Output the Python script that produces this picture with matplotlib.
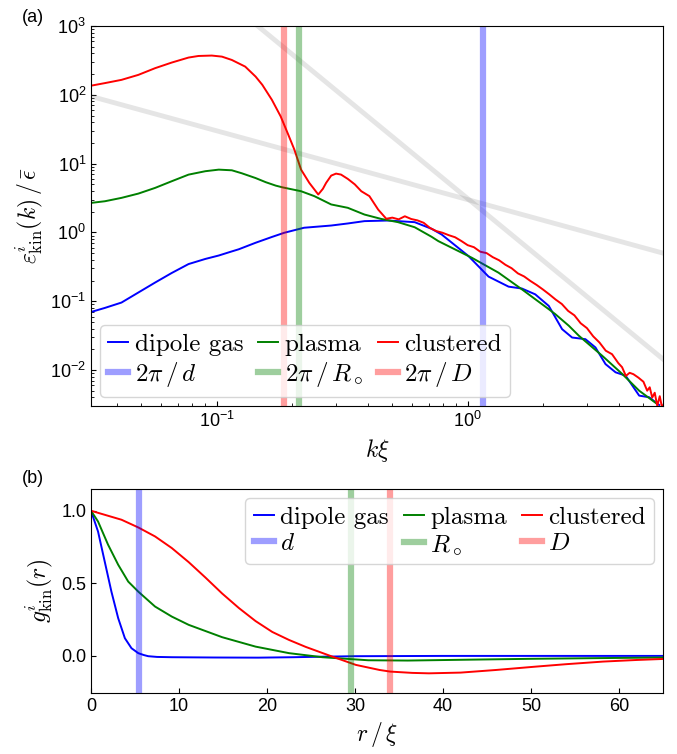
import matplotlib.pyplot as plt
import numpy as np

plt.rcParams['font.family'] = ['Liberation Sans', 'DejaVu Sans']
plt.rcParams['mathtext.fontset'] = 'cm'
plt.rcParams['xtick.direction'] = 'in'
plt.rcParams['ytick.direction'] = 'in'

# (a) kinetic energy spectra
k_dip = [0.0317, 0.0359, 0.0418, 0.0488, 0.0569, 0.0662, 0.0773, 0.0902, 0.102, 0.114,
         0.1225, 0.143, 0.1663, 0.186, 0.223, 0.286, 0.333, 0.388, 0.482, 0.615, 0.718,
         0.787, 1.007, 1.211, 1.455, 1.644, 1.858, 2.104, 2.377, 2.606, 2.944, 3.228,
         3.540, 3.882, 4.256, 4.82, 5.284, 5.79]
E_dip = [0.070, 0.080, 0.0957, 0.134, 0.187, 0.257, 0.347, 0.412, 0.462, 0.525,
         0.569, 0.708, 0.861, 0.989, 1.17, 1.26, 1.35, 1.46, 1.49, 1.41, 1.13,
         0.935, 0.454, 0.228, 0.163, 0.153, 0.126, 0.0855, 0.0393, 0.0297, 0.0281, 0.0213,
         0.0122, 0.00927, 0.00828, 0.00425, 0.00402, 0.00311]

k_pla = [0.0317, 0.0359, 0.0418, 0.0488, 0.0569, 0.0662, 0.0773, 0.0902, 0.102, 0.115,
         0.126, 0.143, 0.157, 0.172, 0.183, 0.217, 0.245, 0.286, 0.333, 0.388, 0.453,
         0.528, 0.615, 0.718, 0.764, 1.037, 1.327, 1.644, 2.104, 2.234, 2.529, 2.773,
         3.436, 4.13, 4.82, 5.61]
E_pla = [2.69, 2.84, 3.18, 3.67, 4.44, 5.54, 6.92, 7.76, 8.18, 8.0,
         7.24, 6.17, 5.37, 4.79, 4.52, 3.97, 3.37, 2.55, 2.28, 1.82, 1.57,
         1.41, 1.19, 0.865, 0.748, 0.430, 0.260, 0.149, 0.0766, 0.0649, 0.0440, 0.0315,
         0.0161, 0.00875, 0.00501, 0.00333]

k_clu = [0.0317, 0.0359, 0.0418, 0.0488, 0.0569, 0.0662, 0.0773, 0.0847, 0.0957, 0.105,
         0.115, 0.130, 0.143, 0.152, 0.166, 0.180, 0.193, 0.204, 0.217, 0.234, 0.254,
         0.265, 0.273, 0.286, 0.299, 0.313, 0.333, 0.355, 0.377, 0.406, 0.440, 0.474,
         0.501, 0.531, 0.562, 0.596, 0.631, 0.668, 0.708, 0.750, 0.794, 0.841, 0.891,
         0.944, 1.000, 1.059, 1.122, 1.189, 1.259, 1.334, 1.413, 1.496, 1.585, 1.679,
         1.778, 1.884, 1.995, 2.113, 2.239, 2.371, 2.512, 2.661, 2.818, 2.985, 3.162,
         3.350, 3.548, 3.758, 3.981, 4.121, 4.266, 4.416, 4.571, 4.786, 5.012, 5.188,
         5.309, 5.433, 5.559, 5.689, 5.821, 5.957, 6.095]
E_clu = [136, 148, 165, 195, 244, 294, 348, 367, 372, 359,
         321, 257, 184, 140, 84.7, 48.5, 26.3, 16.0, 8.18, 5.25, 3.56,
         4.30, 5.25, 6.70, 7.16, 6.93, 6.0, 5.0, 3.97, 3.37, 2.15, 1.58,
         1.641, 1.549, 1.718, 1.567, 1.496, 1.380, 1.161, 1.047, 0.989, 0.912, 0.851,
         0.750, 0.653, 0.610, 0.525, 0.501, 0.437, 0.394, 0.339, 0.302, 0.254, 0.229,
         0.197, 0.172, 0.148, 0.126, 0.106, 0.0912, 0.0724, 0.0624, 0.0479, 0.0407, 0.0309,
         0.0251, 0.0191, 0.0170, 0.0126, 0.0110, 0.00822, 0.00912, 0.00871, 0.00776, 0.00676, 0.00501,
         0.00562, 0.00398, 0.00468, 0.00302, 0.00417, 0.00275, 0.00355]

# k^-1 and k^-3 guide lines (end points)
guide1_k, guide1_E = [0.0316, 6.0], [95.0, 0.5]
guide2_k, guide2_E = [0.14, 6.0], [1130.0, 0.0144]

# characteristic scales
d, R_vortex, D = 5.47, 29.5, 34.0

# (b) correlation functions
r_dip = [0, 0.8, 1.56, 2.32, 3.09, 3.85, 4.6, 5.37, 6.0, 6.5, 7.5, 9.2, 14, 19, 23, 26.7,
         30, 40, 50, 65]
g_dip = [1.0, 0.857, 0.650, 0.443, 0.26, 0.122, 0.053, 0.019, 0.006, -0.002, -0.007, -0.009,
         -0.011, -0.012, -0.009, -0.005, -0.002, 0.0, 0.0, 0.0]

r_pla = [0, 0.8, 1.94, 3.09, 4.23, 5.37, 7.28, 9.18, 11.1, 14.9, 18.7, 22.5, 26.3, 31.5,
         36, 42.9, 50, 58, 65]
g_pla = [1.0, 0.926, 0.766, 0.628, 0.512, 0.443, 0.340, 0.271, 0.214, 0.129, 0.064, 0.019,
         -0.009, -0.030, -0.032, -0.026, -0.020, -0.015, -0.011]

r_clu = [0, 3.47, 5.37, 7.28, 9.18, 11.1, 13.0, 14.9, 16.8, 18.7, 20.6, 22.5, 24.4, 27.2,
         30.1, 32.8, 34.0, 36.5, 38.4, 42, 46, 50.5, 54, 58.2, 62, 65]
g_clu = [1.0, 0.938, 0.885, 0.823, 0.743, 0.646, 0.540, 0.430, 0.330, 0.240, 0.165, 0.110,
         0.062, 0.0, -0.062, -0.097, -0.108, -0.117, -0.12, -0.115, -0.097, -0.074, -0.057,
         -0.039, -0.028, -0.021]

blue, green, red = 'blue', 'green', 'red'
band = dict(lw=4.5, alpha=0.38)
leg_kw = dict(ncol=3, handlelength=0.8, handletextpad=0.25, columnspacing=0.6,
              labelspacing=0.15, borderpad=0.35, borderaxespad=0.35,
              prop=dict(family='cmr10', size=18))

fig = plt.figure(figsize=(6.77, 7.54), dpi=100)

ax1 = fig.add_axes([0.1344, 0.4615, 0.845, 0.504])
ax1.loglog(guide1_k, guide1_E, color='gray', alpha=0.2, lw=3.5)
ax1.loglog(guide2_k, guide2_E, color='gray', alpha=0.2, lw=3.5)
l1, = ax1.loglog(k_dip, E_dip, color=blue, lw=1.4, label='dipole gas')
l2, = ax1.loglog(k_pla, E_pla, color=green, lw=1.4, label='plasma')
l3, = ax1.loglog(k_clu, E_clu, color=red, lw=1.4, label='clustered')
b1 = ax1.axvline(2 * np.pi / d, color=blue, label=r'$2\pi\,/\,d$', **band)
b2 = ax1.axvline(2 * np.pi / R_vortex, color=green, label=r'$2\pi\,/\,R_\circ$', **band)
b3 = ax1.axvline(2 * np.pi / D, color=red, label=r'$2\pi\,/\,D$', **band)
ax1.set_xlim(0.0316, 6.0)
ax1.set_ylim(3e-3, 1e3)
ax1.set_xlabel(r'$k\xi$', fontsize=17)
ax1.set_ylabel(r'$\varepsilon^{i}_{\mathrm{kin}}(k)\,/\,\bar{\epsilon}$', fontsize=17)
ax1.tick_params(labelsize=13)
ax1.legend(handles=[l1, b1, l2, b2, l3, b3], loc='lower left', **leg_kw)

ax2 = fig.add_axes([0.1344, 0.081, 0.845, 0.2705])
m1, = ax2.plot(r_dip, g_dip, color=blue, lw=1.4, label='dipole gas')
m2, = ax2.plot(r_pla, g_pla, color=green, lw=1.4, label='plasma')
m3, = ax2.plot(r_clu, g_clu, color=red, lw=1.4, label='clustered')
c1 = ax2.axvline(d, color=blue, label=r'$d$', **band)
c2 = ax2.axvline(R_vortex, color=green, label=r'$R_\circ$', **band)
c3 = ax2.axvline(D, color=red, label=r'$D$', **band)
ax2.set_xlim(0, 65)
ax2.set_ylim(-0.255, 1.15)
ax2.set_yticks([0.0, 0.5, 1.0])
ax2.set_xlabel(r'$r\,/\,\xi$', fontsize=17)
ax2.set_ylabel(r'$g^{i}_{\mathrm{kin}}(r)$', fontsize=17)
ax2.tick_params(labelsize=13)
ax2.legend(handles=[m1, c1, m2, c2, m3, c3], loc='upper right', **leg_kw)

fig.text(0.032, 0.977, '(a)', fontsize=13, va='center')
fig.text(0.032, 0.366, '(b)', fontsize=13, va='center')

fig.savefig('out.png', dpi=100)
